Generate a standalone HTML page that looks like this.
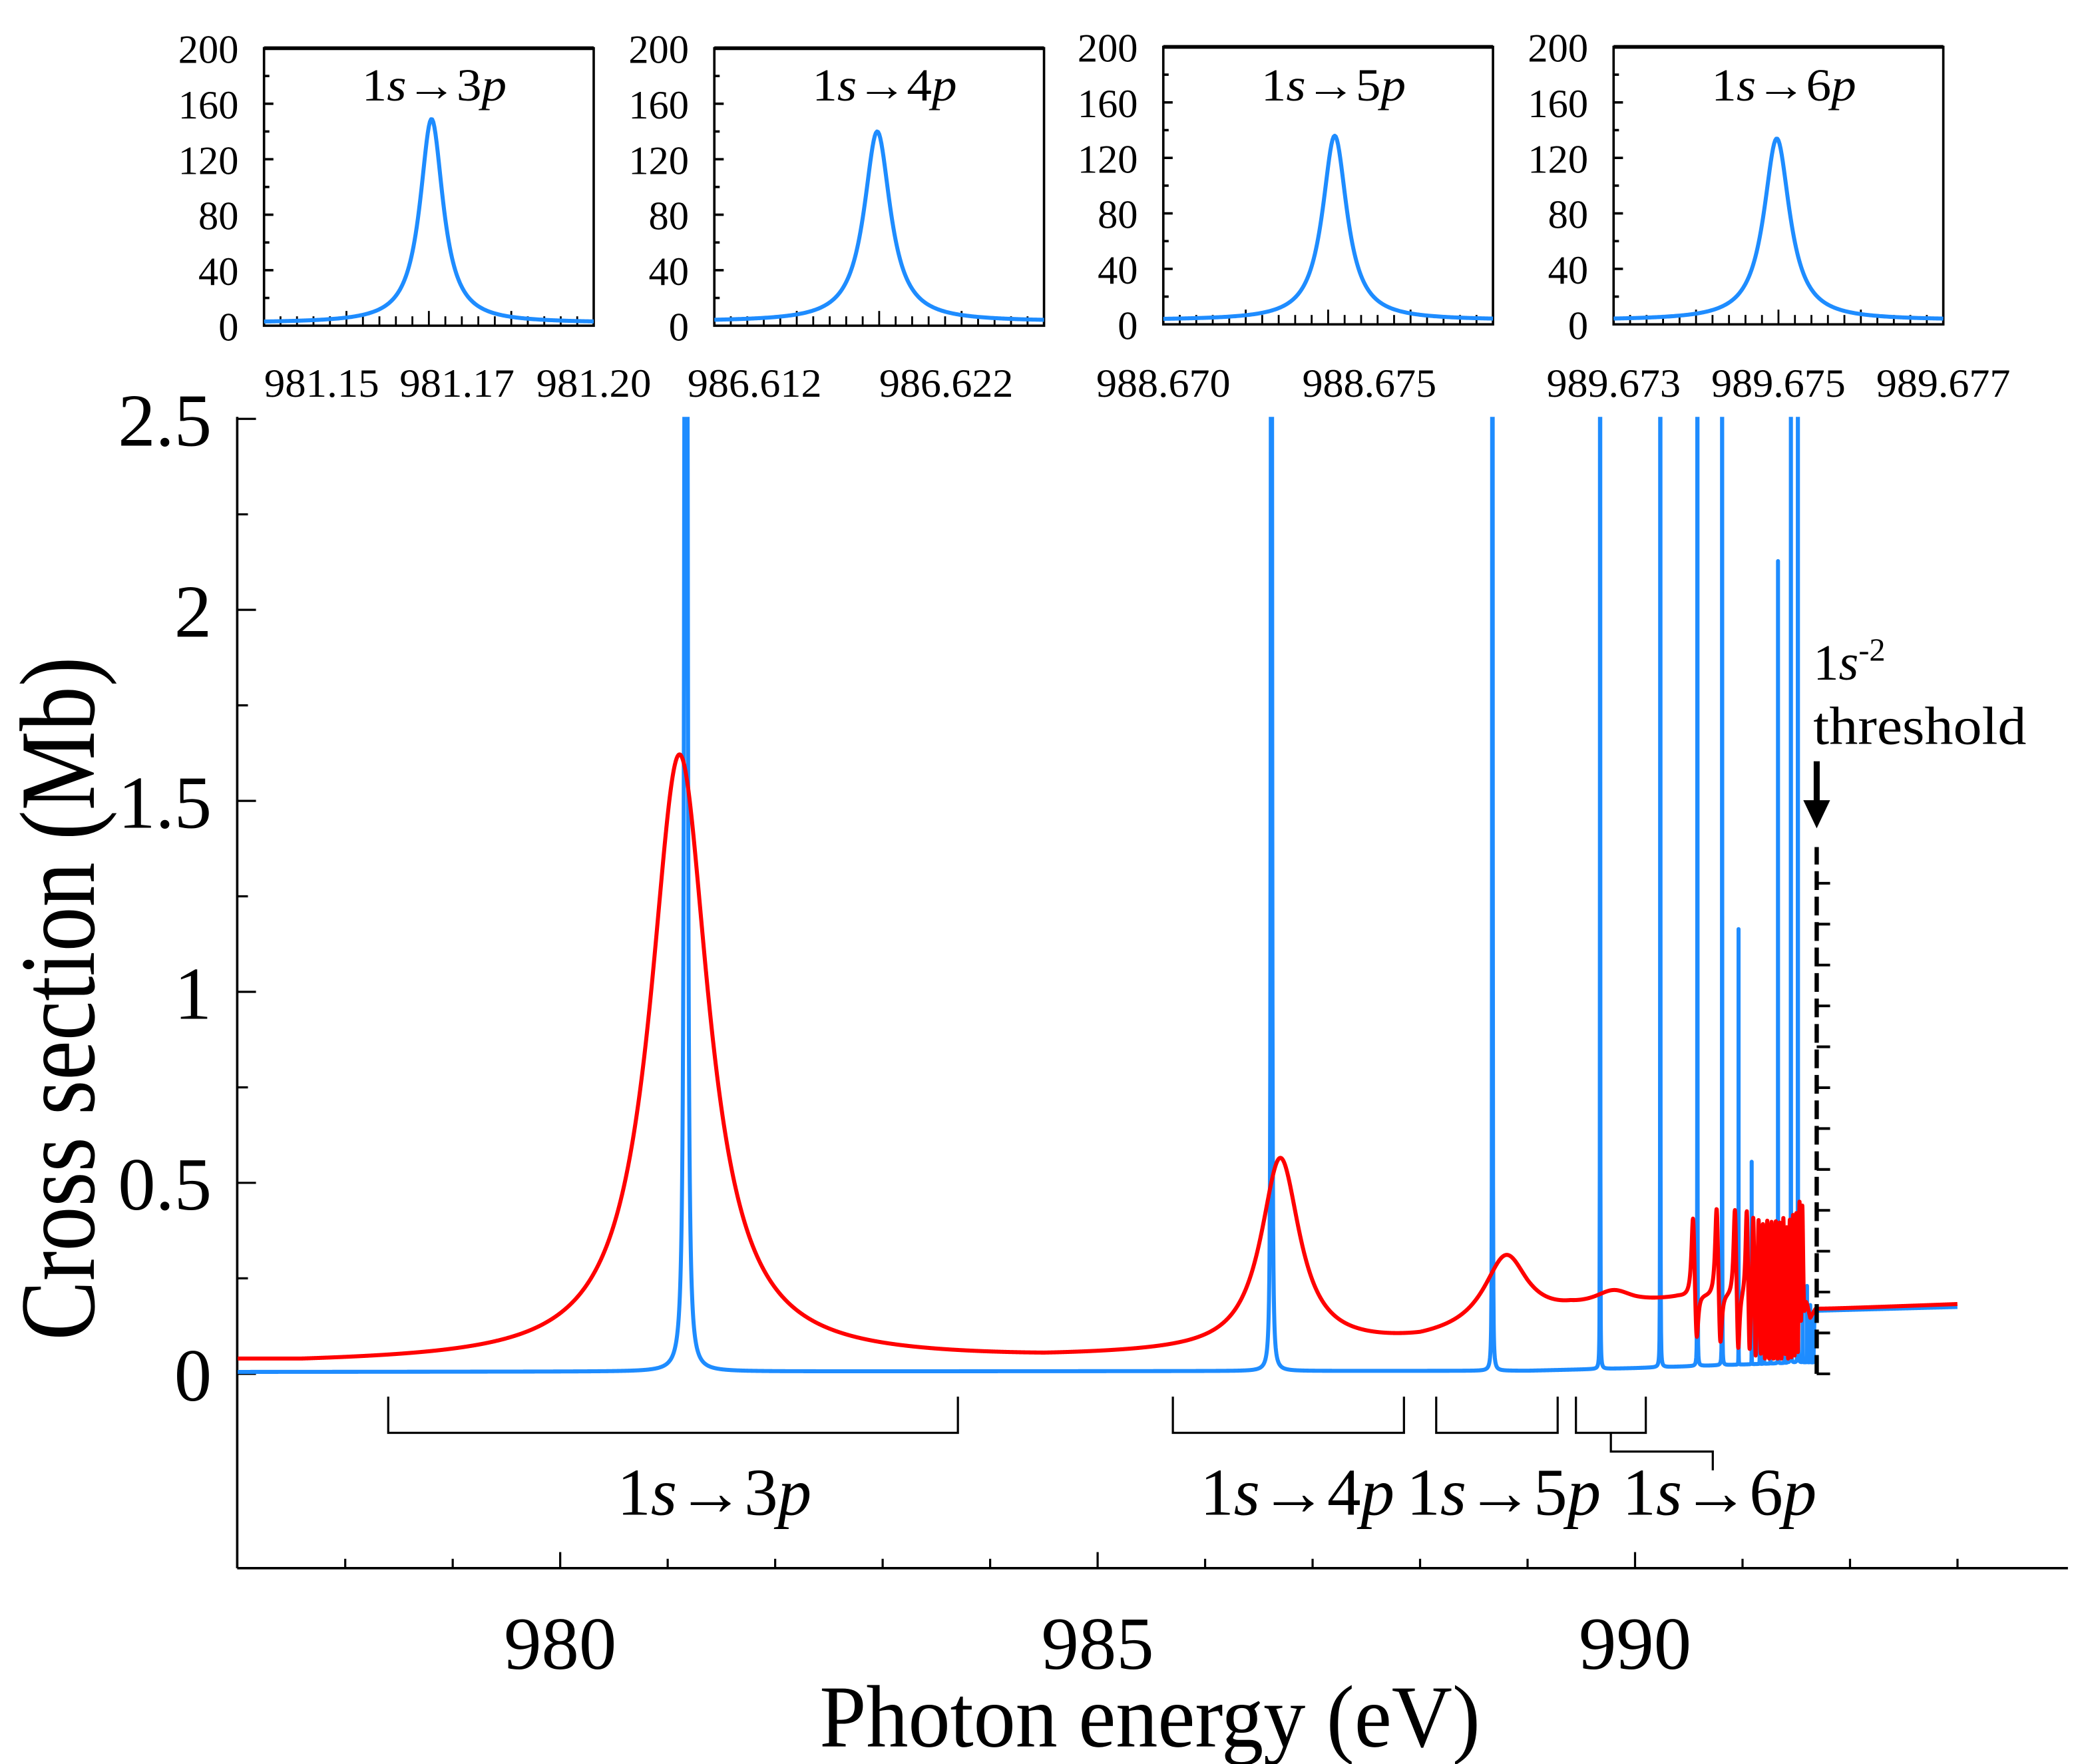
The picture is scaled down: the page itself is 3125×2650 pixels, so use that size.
<!DOCTYPE html>
<html><head><meta charset="utf-8"><style>
html,body{margin:0;padding:0;background:#fff;}
svg{display:block;}
text{font-family:"Liberation Serif","DejaVu Serif",serif;fill:#000;}
</style></head><body>
<svg id="chart" xmlns="http://www.w3.org/2000/svg" width="3125" height="2650" viewBox="0 0 1552 1316.1" preserveAspectRatio="none">
<defs><clipPath id="mainclip"><rect x="177" y="311" width="1370" height="860"/></clipPath></defs>
<g id="main"></g>
<g id="insets"></g>
</svg>
<script>
// ---- main chart data ----
const xTicks = [980, 985, 990];
const xTickLabels = ["980", "985", "990"];
const yTicks = [0, 0.5, 1, 1.5, 2, 2.5];
const yTickLabels = ["0", "0.5", "1", "1.5", "2", "2.5"];
// blue (narrow) resonances
const blueCenters = [981.17, 986.617, 988.673, 989.675, 990.235, 990.58, 990.81, 990.963, 991.085, 991.16, 991.2, 991.26, 991.33, 991.39, 991.42, 991.45, 991.515, 991.56, 991.6, 991.63];
const blueHeights = [150, 140, 135, 133, 50, 30, 20, 1.14, 0.53, 0.3, 0.25, 0.2, 2.1, 0.3, 0.25, 10, 10, 0.3, 0.2, 0.15];
const blueWidths = [0.00207, 0.00083, 0.00036, 0.00019, 0.0003, 0.0003, 0.0003, 0.0003, 0.0003, 0.0003, 0.0003, 0.0003, 0.0003, 0.0003, 0.0003, 0.0003, 0.0003, 0.0003, 0.0003, 0.0003];
const blueBgE = [977, 989, 990, 991.6, 991.66, 991.67, 993];
const blueBgV = [0.005, 0.008, 0.015, 0.03, 0.03, 0.165, 0.175];
// red (broad) resonances
const redCenters = [981.11, 986.70, 988.80, 989.80, 990.54, 990.76, 990.93, 991.04, 991.10, 991.15, 991.19, 991.23, 991.27, 991.31, 991.345, 991.38, 991.41, 991.44, 991.47, 991.50, 991.53, 991.555];
const redAmps = [1.59, 0.50, 0.19, 0.04, 0.24, 0.27, 0.27, 0.27, 0.27, 0.27, 0.28, 0.28, 0.28, 0.28, 0.28, 0.29, 0.29, 0.29, 0.3, 0.3, 0.31, 0.33];
const redWidths = [0.33, 0.22, 0.25, 0.22, 0.018, 0.018, 0.016, 0.014, 0.012, 0.011, 0.01, 0.01, 0.01, 0.009, 0.009, 0.009, 0.008, 0.008, 0.008, 0.008, 0.008, 0.01];
const redDips = [0, 0, 0, 0, 0.16, 0.18, 0.2, 0.22, 0.24, 0.25, 0.26, 0.26, 0.27, 0.27, 0.27, 0.27, 0.27, 0.27, 0.27, 0.27, 0.27, 0.1];
const redBgE = [977, 984.5, 987, 988, 989, 989.4, 990, 990.4, 991.58, 991.63, 991.68, 993];
const redBgV = [0.025, 0.035, 0.06, 0.075, 0.12, 0.15, 0.17, 0.19, 0.2, 0.14, 0.165, 0.18];
const thresholdE = 991.69;
const brackets = [[978.4, 983.7, "3p"], [985.7, 987.85, "4p"], [988.15, 989.28, "5p"], [989.45, 990.1, "6p"]];
// ---- inset data ----
const insetNames = ["3p", "4p", "5p", "6p"];
const insetDomains = [[981.1415, 981.1903], [986.6099, 986.6271], [988.6700, 988.6780], [989.6730, 989.6770]];
const insetCenters = [981.1663, 986.6184, 988.67416, 989.67498];
const insetHeights = [147, 137, 133, 131];
const insetWidths = [0.00207, 0.00083, 0.00036, 0.00019];
const insetBase = [2, 3, 3, 3];
const insetYTicks = [0, 40, 80, 120, 160, 200];
const insetXTickVals = [[981.15, 981.17, 981.19], [986.612, 986.622], [988.670, 988.675], [989.673, 989.675, 989.677]];
const insetXTickLabels = [["981.15", "981.17", "981.20"], ["986.612", "986.622"], ["988.670", "988.675"], ["989.673", "989.675", "989.677"]];

const NS = "http://www.w3.org/2000/svg";
function mk(tag, attrs, parent, txt) {
  const e = document.createElementNS(NS, tag);
  for (const k in attrs) e.setAttribute(k, attrs[k]);
  if (txt !== undefined) e.textContent = txt;
  parent.appendChild(e);
  return e;
}
const X0 = 177, X1 = 1543, Y0 = 1025, YB = 1170;
const xS = e => 418 + (e - 980) * 80.2;
const yS = v => Y0 - v * 285;
function interp(xs, ys, x) {
  if (x <= xs[0]) return ys[0];
  for (let i = 1; i < xs.length; i++) if (x <= xs[i]) { const t = (x - xs[i-1]) / (xs[i] - xs[i-1]); return ys[i-1] + t * (ys[i] - ys[i-1]); }
  return ys[ys.length - 1];
}
const lor = (e, c, g) => g * g / ((e - c) * (e - c) + g * g);
function blueVal(e) { let v = interp(blueBgE, blueBgV, e); for (let i = 0; i < blueCenters.length; i++) v += blueHeights[i] * lor(e, blueCenters[i], blueWidths[i]); return v; }
function redVal(e) { let v = interp(redBgE, redBgV, e); for (let i = 0; i < redCenters.length; i++) { v += redAmps[i] * lor(e, redCenters[i], redWidths[i]); if (redDips[i]) v -= redDips[i] * lor(e, redCenters[i] + 1.8 * redWidths[i], redWidths[i]); } return Math.max(v, 0.04); }

const main = document.getElementById('main');
let el;
el = mk('line', {x1: X0, y1: 311, x2: X0, y2: YB, stroke: '#000', 'stroke-width': 1.8}, main);
 
el = mk('line', {x1: X0, y1: YB, x2: X1, y2: YB, stroke: '#000', 'stroke-width': 1.8}, main);
 
for (let e = 978; e <= 993; e++) {
  const major = xTicks.includes(e);
  el = mk('line', {x1: xS(e), y1: YB, x2: xS(e), y2: YB - (major ? 12 : 7), stroke: '#000', 'stroke-width': 1.6}, main);
   
}
xTicks.forEach((t, i) => {
  el = mk('text', {x: xS(t), y: 1245, 'font-size': 56, 'text-anchor': 'middle'}, main, xTickLabels[i]);
   
});
for (let v = 0; v <= 2.5001; v += 0.25) {
  const major = Math.abs(v * 2 - Math.round(v * 2)) < 1e-6;
  el = mk('line', {x1: X0, y1: yS(v), x2: X0 + (major ? 14 : 8), y2: yS(v), stroke: '#000', 'stroke-width': 1.6}, main);
   
}
yTicks.forEach((t, i) => {
  el = mk('text', {x: 158, y: yS(t) + 20, 'font-size': 56, 'text-anchor': 'end'}, main, yTickLabels[i]);
   
});
el = mk('text', {x: 0, y: 0, 'font-size': 80, 'text-anchor': 'middle', textLength: 510, lengthAdjust: 'spacingAndGlyphs', transform: 'translate(70,745) rotate(-90)'}, main, 'Cross section (Mb)');
 
el = mk('text', {x: 858, y: 1303, 'font-size': 66, 'text-anchor': 'middle', textLength: 493, lengthAdjust: 'spacingAndGlyphs'}, main, 'Photon energy (eV)');
 

let xs = [];
for (let e = 977; e <= 993.0001; e += 0.003) xs.push(e);
blueCenters.forEach((c, i) => { for (let k = -30; k <= 30; k++) xs.push(c + k * blueWidths[i] * (Math.abs(k) > 10 ? 3 : 1)); });
redCenters.forEach((c, i) => { for (let k = -25; k <= 25; k++) xs.push(c + k * redWidths[i] * 0.2); });
xs = xs.filter(e => e >= 977 && e <= 993).sort((a, b) => a - b);
function pathFor(f) { let d = ''; xs.forEach((e, i) => { d += (i ? 'L' : 'M') + xS(e).toFixed(2) + ',' + Math.max(yS(f(e)), 300).toFixed(2); }); return d; }
const curves = mk('g', {'clip-path': 'url(#mainclip)'}, main);
el = mk('path', {d: pathFor(blueVal), fill: 'none', stroke: '#1e8cff', 'stroke-width': 3, 'stroke-linejoin': 'round'}, curves);
 
el = mk('path', {d: pathFor(redVal), fill: 'none', stroke: '#ff0000', 'stroke-width': 3, 'stroke-linejoin': 'round'}, curves);
 

const tx = xS(thresholdE);
el = mk('line', {x1: tx, y1: Y0, x2: tx, y2: 632, stroke: '#000', 'stroke-width': 3.2, 'stroke-dasharray': '14,5'}, main);
 
for (let y = Y0; y >= 640; y -= 30.5) {
  el = mk('line', {x1: tx, y1: y, x2: tx + 10, y2: y, stroke: '#000', 'stroke-width': 2}, main);
   
}
el = mk('line', {x1: tx, y1: 568, x2: tx, y2: 602, stroke: '#000', 'stroke-width': 4.5}, main);
 
el = mk('path', {d: `M${tx-10},597 L${tx+10},597 L${tx},618 Z`, fill: '#000'}, main);
 
el = mk('text', {x: 1353, y: 507, 'font-size': 38}, main);
el.innerHTML = '1<tspan font-style="italic">s</tspan><tspan font-size="24" dy="-14">-2</tspan>';
 
el = mk('text', {x: 1353, y: 555, 'font-size': 40, textLength: 159, lengthAdjust: 'spacingAndGlyphs'}, main, 'threshold');
 

const labelX = [533, 968, 1122, 1283];
brackets.forEach((b, i) => {
  const a = xS(b[0]), c = xS(b[1]);
  el = mk('path', {d: `M${a},1042 L${a},1069 L${c},1069 L${c},1042`, fill: 'none', stroke: '#000', 'stroke-width': 1.6}, main);
   
  el = mk('text', {x: labelX[i], y: 1130, 'font-size': 50, 'text-anchor': 'middle', textLength: 145, lengthAdjust: 'spacingAndGlyphs'}, main);
  el.innerHTML = '1<tspan font-style="italic">s</tspan>→' + b[2][0] + '<tspan font-style="italic">p</tspan>';
   
});
{
  const m = (xS(brackets[3][0]) + xS(brackets[3][1])) / 2;
  el = mk('path', {d: `M${m},1069 L${m},1083 L1278,1083 L1278,1097`, fill: 'none', stroke: '#000', 'stroke-width': 1.6}, main);
   
}

const insetsG = document.getElementById('insets');
const boxL = [197, 533, 868, 1204], boxW = 246;
const boxTop = [36, 36, 35, 35], boxBot = [243, 243, 242, 242];
insetNames.forEach((nm, p) => {
  const g = mk('g', {}, insetsG);
   
  const L = boxL[p], R = L + boxW, T = boxTop[p], B = boxBot[p];
  const dom = insetDomains[p];
  const ix = e => L + (e - dom[0]) / (dom[1] - dom[0]) * boxW;
  const iy = v => B - v * (B - T) / 200;
  el = mk('rect', {x: L, y: T, width: boxW, height: B - T, fill: 'none', stroke: '#000', 'stroke-width': 1.8}, g);
   
  el = mk('line', {x1: L, y1: T, x2: R, y2: T, stroke: '#000', 'stroke-width': 2.8}, g);
   
  for (let v = 20; v < 200; v += 20) {
    el = mk('line', {x1: L, y1: iy(v), x2: L + ((v % 40) ? 4 : 7), y2: iy(v), stroke: '#000', 'stroke-width': 1.8}, g);
     
  }
  insetYTicks.forEach(v => {
    const s = String(v);
    el = mk('text', {x: L - 19, y: iy(v) + 11, 'font-size': 30, 'text-anchor': 'end', textLength: s.length * 15, lengthAdjust: 'spacingAndGlyphs'}, g, s);
     
  });
  for (let k = 1; k < 20; k++) {
    const x = L + k * boxW / 20;
    el = mk('line', {x1: x, y1: B, x2: x, y2: B - (k % 5 ? 7 : 11), stroke: '#000', 'stroke-width': 1.4}, g);
     
  }
  insetXTickVals[p].forEach((v, k) => {
    const s = insetXTickLabels[p][k];
    let x = ix(v);
    if (p === 0) x = [240, 341, 443][k];
    el = mk('text', {x: x, y: 296, 'font-size': 30, 'text-anchor': 'middle', textLength: s.length * 14.3, lengthAdjust: 'spacingAndGlyphs'}, g, s);
     
  });
  el = mk('text', {x: L + 127, y: 75, 'font-size': 34, 'text-anchor': 'middle', textLength: 108, lengthAdjust: 'spacingAndGlyphs'}, g);
  el.innerHTML = '1<tspan font-style="italic">s</tspan>→' + nm[0] + '<tspan font-style="italic">p</tspan>';
   
  let d = '';
  for (let k = 0; k <= 300; k++) {
    const e = dom[0] + (dom[1] - dom[0]) * k / 300;
    const v = insetBase[p] + insetHeights[p] * lor(e, insetCenters[p], insetWidths[p]);
    d += (k ? 'L' : 'M') + ix(e).toFixed(2) + ',' + iy(v).toFixed(2);
  }
  el = mk('path', {d: d, fill: 'none', stroke: '#1e8cff', 'stroke-width': 3, 'stroke-linejoin': 'round'}, g);
   
});
</script>
</body></html>
